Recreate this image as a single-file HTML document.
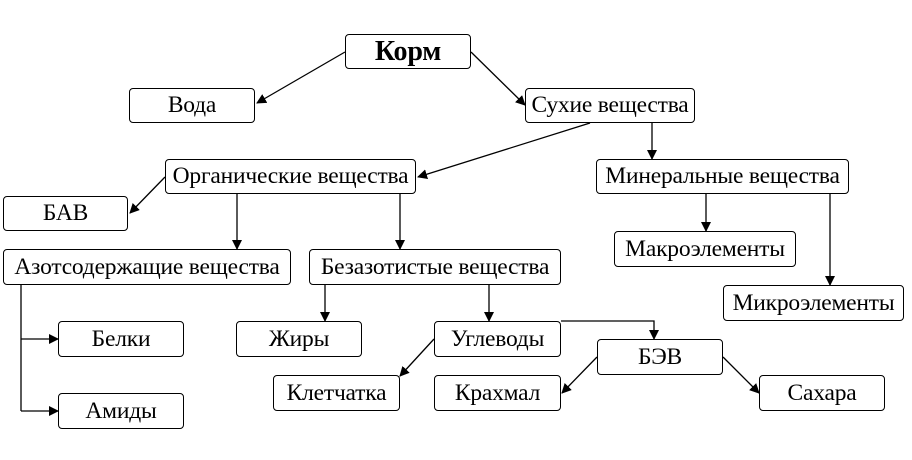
<!DOCTYPE html>
<html><head><meta charset="utf-8"><style>
body{margin:0;background:#fff;width:912px;height:460px;position:relative;overflow:hidden;font-family:"Liberation Serif",serif}
.b{position:absolute;box-sizing:border-box;border:1px solid #000;border-radius:4px;background:#fff;display:flex;align-items:center;justify-content:center;font-size:23.5px;white-space:nowrap;letter-spacing:-0.2px}
svg{position:absolute;left:0;top:0}
</style></head><body>
<svg width="912" height="460">
<defs><marker id="a" markerWidth="10" markerHeight="10" refX="9" refY="5" orient="auto" markerUnits="userSpaceOnUse"><path d="M0,0 L10,5 L0,10z"/></marker></defs>
<g stroke="#000" stroke-width="1.3" fill="none">
<line x1="345" y1="52" x2="257" y2="103" marker-end="url(#a)"/>
<line x1="471" y1="52" x2="525" y2="105" marker-end="url(#a)"/>
<line x1="652" y1="123" x2="652" y2="159" marker-end="url(#a)"/>
<line x1="590" y1="123" x2="418" y2="177" marker-end="url(#a)"/>
<line x1="165" y1="177" x2="130" y2="213" marker-end="url(#a)"/>
<line x1="237" y1="194" x2="237" y2="249" marker-end="url(#a)"/>
<line x1="400" y1="194" x2="400" y2="249" marker-end="url(#a)"/>
<line x1="706" y1="194" x2="706" y2="231" marker-end="url(#a)"/>
<line x1="830" y1="194" x2="830" y2="285" marker-end="url(#a)"/>
<polyline points="21,285 21,411"/>
<line x1="21" y1="339" x2="58" y2="339" marker-end="url(#a)"/>
<line x1="21" y1="411" x2="58" y2="411" marker-end="url(#a)"/>
<line x1="325" y1="285" x2="325" y2="321" marker-end="url(#a)"/>
<line x1="489" y1="285" x2="489" y2="321" marker-end="url(#a)"/>
<polyline points="561,321 654,321 654,339" marker-end="url(#a)"/>
<line x1="434" y1="339" x2="400" y2="376" marker-end="url(#a)"/>
<line x1="597" y1="357" x2="562" y2="393" marker-end="url(#a)"/>
<line x1="723" y1="357" x2="759" y2="393" marker-end="url(#a)"/>
</g></svg>
<div class="b" style="left:345px;top:34px;width:126px;height:35px;font-weight:bold;font-size:28px">Корм</div>
<div class="b" style="left:129px;top:88px;width:126px;height:35px">Вода</div>
<div class="b" style="left:525px;top:88px;width:170px;height:35px">Сухие вещества</div>
<div class="b" style="left:165px;top:159px;width:251px;height:35px">Органические вещества</div>
<div class="b" style="left:3px;top:196px;width:125px;height:35px">БАВ</div>
<div class="b" style="left:596px;top:159px;width:253px;height:35px">Минеральные вещества</div>
<div class="b" style="left:3px;top:249px;width:288px;height:36px">Азотсодержащие вещества</div>
<div class="b" style="left:309px;top:249px;width:252px;height:36px">Безазотистые вещества</div>
<div class="b" style="left:614px;top:231px;width:182px;height:36px">Макроэлементы</div>
<div class="b" style="left:723px;top:285px;width:181px;height:36px">Микроэлементы</div>
<div class="b" style="left:58px;top:321px;width:126px;height:36px">Белки</div>
<div class="b" style="left:58px;top:393px;width:126px;height:36px">Амиды</div>
<div class="b" style="left:236px;top:321px;width:126px;height:36px">Жиры</div>
<div class="b" style="left:434px;top:321px;width:127px;height:36px">Углеводы</div>
<div class="b" style="left:597px;top:339px;width:126px;height:36px">БЭВ</div>
<div class="b" style="left:273px;top:375px;width:127px;height:36px">Клетчатка</div>
<div class="b" style="left:434px;top:375px;width:127px;height:36px">Крахмал</div>
<div class="b" style="left:759px;top:375px;width:126px;height:36px">Сахара</div>
</body></html>
